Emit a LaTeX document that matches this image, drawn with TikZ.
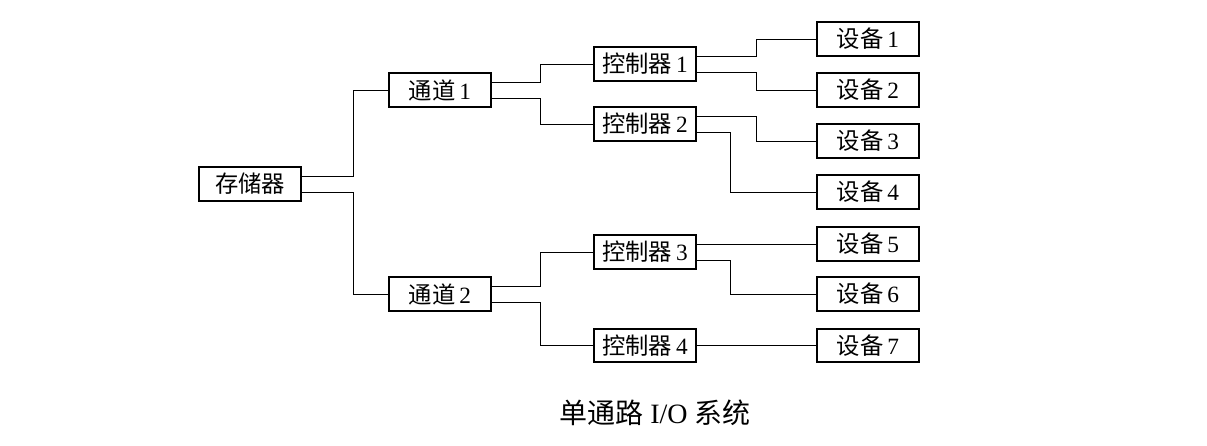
\documentclass[tikz,border=0pt]{standalone}
\usepackage{fontspec}
\setmainfont{Liberation Serif}
\newfontfamily\cjk{Noto Sans CJK SC}
\newcommand{\zh}[1]{{\cjk #1}}
\tikzset{
  unit/.style={draw, line width=1.4pt, minimum width=76pt, minimum height=25pt,
    inner sep=0pt, font=\fontsize{17.5}{17.5}\selectfont},
  wire/.style={line width=0.7pt}
}

\begin{document}
\begin{tikzpicture}[x=0.75pt,y=-0.75pt]
\useasboundingbox (0,0) rectangle (1207,446);
\node[unit] (mem) at (250,184) {\zh{存储器}};
\node[unit] (ch1) at (440,90) {\zh{通道}\,1};
\node[unit] (ch2) at (440,294) {\zh{通道}\,2};
\node[unit] (ctl1) at (645,64) {\zh{控制器}\,1};
\node[unit] (ctl2) at (645,124) {\zh{控制器}\,2};
\node[unit] (ctl3) at (645,252) {\zh{控制器}\,3};
\node[unit] (ctl4) at (645,345.5) {\zh{控制器}\,4};
\node[unit] (dev1) at (868,39) {\zh{设备}\,1};
\node[unit] (dev2) at (868,90) {\zh{设备}\,2};
\node[unit] (dev3) at (868,141) {\zh{设备}\,3};
\node[unit] (dev4) at (868,192) {\zh{设备}\,4};
\node[unit] (dev5) at (868,244) {\zh{设备}\,5};
\node[unit] (dev6) at (868,294) {\zh{设备}\,6};
\node[unit] (dev7) at (868,345.5) {\zh{设备}\,7};
\node[font=\fontsize{21}{21}\selectfont] (title) at (655,413) {\zh{单通路} I/O \zh{系统}};

\draw[wire] ([yshift=6pt]mem.east) -- ++(52,0) |- (ch1.west);
\draw[wire] ([yshift=-6pt]mem.east) -- ++(52,0) |- (ch2.west);
\draw[wire] ([yshift=6pt]ch1.east) -- ++(49,0) |- (ctl1.west);
\draw[wire] ([yshift=-6pt]ch1.east) -- ++(49,0) |- (ctl2.west);
\draw[wire] ([yshift=6pt]ch2.east) -- ++(49,0) |- (ctl3.west);
\draw[wire] ([yshift=-6pt]ch2.east) -- ++(49,0) |- (ctl4.west);
\draw[wire] ([yshift=6pt]ctl1.east) -- ++(60,0) |- (dev1.west);
\draw[wire] ([yshift=-6pt]ctl1.east) -- ++(60,0) |- (dev2.west);
\draw[wire] ([yshift=6pt]ctl2.east) -- ++(60,0) |- (dev3.west);
\draw[wire] ([yshift=-6pt]ctl2.east) -- ++(34,0) |- (dev4.west);
\draw[wire] ([yshift=6pt]ctl3.east) -- ([yshift=6pt]ctl3.east -| dev5.west);
\draw[wire] ([yshift=-6pt]ctl3.east) -- ++(34,0) |- (dev6.west);
\draw[wire] (ctl4.east) -- (dev7.west);
\end{tikzpicture}
\end{document}
